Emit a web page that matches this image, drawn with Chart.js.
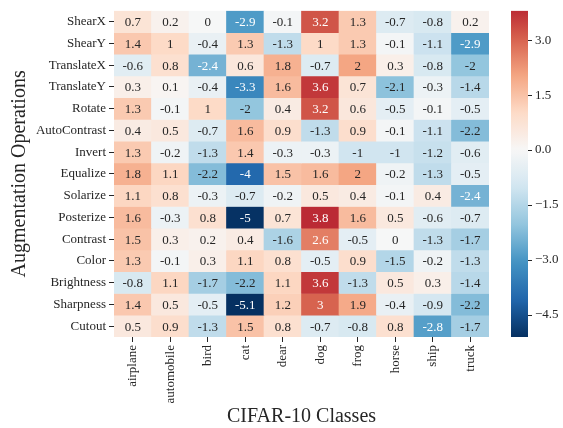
<!DOCTYPE html>
<html>
<head>
<meta charset="utf-8">
<title>Augmentation heatmap</title>
<script src="https://cdn.jsdelivr.net/npm/chart.js@4.4.1/dist/chart.umd.min.js"></script>
<style>
    html, body { margin: 0; padding: 0; background: #ffffff; }
    #wrap { position: relative; width: 563px; height: 428px; }
    #heat { position: absolute; left: 0; top: 0; }
    #cbar { position: absolute; left: 500px; top: 0; }
</style>
</head>
<body>
<div id="wrap">
    <canvas id="heat" width="563" height="428"></canvas>
    <canvas id="cbar" width="63" height="428"></canvas>
</div>
<script>
// --- data ---
const classes = ['airplane', 'automobile', 'bird', 'cat', 'dear', 'dog', 'frog', 'horse', 'ship', 'truck'];
const operations = ['ShearX', 'ShearY', 'TranslateX', 'TranslateY', 'Rotate', 'AutoContrast', 'Invert',
    'Equalize', 'Solarize', 'Posterize', 'Contrast', 'Color', 'Brightness', 'Sharpness', 'Cutout'];

const shearX       = [0.7, 0.2, 0, -2.9, -0.1, 3.2, 1.3, -0.7, -0.8, 0.2];
const shearY       = [1.4, 1, -0.4, 1.3, -1.3, 1, 1.3, -0.1, -1.1, -2.9];
const translateX   = [-0.6, 0.8, -2.4, 0.6, 1.8, -0.7, 2, 0.3, -0.8, -2];
const translateY   = [0.3, 0.1, -0.4, -3.3, 1.6, 3.6, 0.7, -2.1, -0.3, -1.4];
const rotate       = [1.3, -0.1, 1, -2, 0.4, 3.2, 0.6, -0.5, -0.1, -0.5];
const autoContrast = [0.4, 0.5, -0.7, 1.6, 0.9, -1.3, 0.9, -0.1, -1.1, -2.2];
const invert       = [1.3, -0.2, -1.3, 1.4, -0.3, -0.3, -1, -1, -1.2, -0.6];
const equalize     = [1.8, 1.1, -2.2, -4, 1.5, 1.6, 2, -0.2, -1.3, -0.5];
const solarize     = [1.1, 0.8, -0.3, -0.7, -0.2, 0.5, 0.4, -0.1, 0.4, -2.4];
const posterize    = [1.6, -0.3, 0.8, -5, 0.7, 3.8, 1.6, 0.5, -0.6, -0.7];
const contrast     = [1.5, 0.3, 0.2, 0.4, -1.6, 2.6, -0.5, 0, -1.3, -1.7];
const color        = [1.3, -0.1, 0.3, 1.1, 0.8, -0.5, 0.9, -1.5, -0.2, -1.3];
const brightness   = [-0.8, 1.1, -1.7, -2.2, 1.1, 3.6, -1.3, 0.5, 0.3, -1.4];
const sharpness    = [1.4, 0.5, -0.5, -5.1, 1.2, 3, 1.9, -0.4, -0.9, -2.2];
const cutout       = [0.5, 0.9, -1.3, 1.5, 0.8, -0.7, -0.8, 0.8, -2.8, -1.7];

const cbarTicks = [-4.5, -3, -1.5, 0, 1.5, 3];

const grid = [shearX, shearY, translateX, translateY, rotate, autoContrast, invert,
    equalize, solarize, posterize, contrast, color, brightness, sharpness, cutout];

// --- colour map: RdBu_r centred on 0 (seaborn style) ---
const rdbuR = ['#053061', '#2166ac', '#4393c3', '#92c5de', '#d1e5f0', '#f7f7f7',
    '#fddbc7', '#f4a582', '#d6604d', '#b2182b', '#67001f'].map(h => [
    parseInt(h.slice(1, 3), 16), parseInt(h.slice(3, 5), 16), parseInt(h.slice(5, 7), 16)]);

const vmin = Math.min(...grid.flat());
const vmax = Math.max(...grid.flat());
const vrange = Math.max(-vmin, vmax);

function sample(t) {
    const s = Math.min(Math.max(t, 0), 1) * (rdbuR.length - 1);
    const i = Math.min(Math.floor(s), rdbuR.length - 2);
    const f = s - i;
    return rdbuR[i].map((c, k) => c + (rdbuR[i + 1][k] - c) * f);
}

// quantised like matplotlib's 256-entry lookup tables
function rgbFor(v) {
    const cmin = (vmin + vrange) / (2 * vrange);
    const cmax = (vmax + vrange) / (2 * vrange);
    let idx = Math.floor((v - vmin) / (vmax - vmin) * 256);
    idx = Math.min(Math.max(idx, 0), 255);
    const cc = cmin + (cmax - cmin) * idx / 255;
    const j = Math.min(Math.floor(cc * 256), 255);
    return sample(j / 255);
}

function css(rgb) {
    return 'rgb(' + rgb.map(Math.round).join(',') + ')';
}

function textColor(v) {
    const lin = rgbFor(v).map(c => {
        c = c / 255;
        return c <= 0.03928 ? c / 12.92 : Math.pow((c + 0.055) / 1.055, 2.4);
    });
    const lum = 0.2126 * lin[0] + 0.7152 * lin[1] + 0.0722 * lin[2];
    return lum > 0.408 ? '#262626' : '#ffffff';
}

Chart.defaults.font.family = "'Liberation Serif', 'DejaVu Serif', serif";
Chart.defaults.color = '#262626';

const tickFont = { size: 13 };
const titleFont = { size: 20, lineHeight: 1.1 };

// numbers inside cells
const cellLabels = {
    id: 'cellLabels',
    afterDatasetsDraw(chart) {
        const c = chart.ctx;
        c.save();
        c.font = "13px 'Liberation Serif', serif";
        c.textAlign = 'center';
        c.textBaseline = 'middle';
        grid.forEach((row, r) => {
            chart.getDatasetMeta(r).data.forEach((bar, k) => {
                c.fillStyle = textColor(row[k]);
                c.fillText(String(row[k]), bar.x, (bar.y + bar.base) / 2 + 1);
            });
        });
        c.restore();
    }
};

new Chart(document.getElementById('heat'), {
    type: 'bar',
    data: {
        labels: classes,
        datasets: operations.map((name, r) => ({
            label: name,
            data: classes.map(() => [r, r + 1]),
            backgroundColor: grid[r].map(v => css(rgbFor(v))),
            borderWidth: 0
        }))
    },
    options: {
        responsive: false,
        animation: false,
        events: [],
        layout: { padding: { top: 7, right: 74, left: 0, bottom: 0 } },
        datasets: { bar: { grouped: false, barPercentage: 1, categoryPercentage: 1 } },
        scales: {
            x: {
                afterFit: function(axis) { axis.height = 91; },
                ticks: { minRotation: 90, maxRotation: 90, autoSkip: false, font: tickFont, padding: 3 },
                grid: { offset: false, drawOnChartArea: false, tickLength: 5, color: '#262626' },
                border: { display: false },
                title: { display: true, text: 'CIFAR-10 Classes', font: titleFont, padding: { top: 0, bottom: 0 } }
            },
            y: {
                type: 'linear',
                min: 0,
                max: operations.length,
                reverse: true,
                afterBuildTicks: function(axis) {
                    axis.ticks = operations.map((_, i) => ({ value: i + 0.5 }));
                },
                afterFit: function(axis) { axis.width = 114; },
                ticks: {
                    autoSkip: false,
                    font: tickFont,
                    padding: 3,
                    callback: function(value) { return operations[Math.floor(value)]; }
                },
                grid: { drawOnChartArea: false, tickLength: 5, color: '#262626' },
                border: { display: false },
                title: { display: true, text: 'Augmentation Operations', font: titleFont, padding: { top: 9, bottom: 0 } }
            }
        },
        plugins: {
            legend: { display: false },
            tooltip: { enabled: false }
        }
    },
    plugins: [cellLabels]
});

// colour bar
new Chart(document.getElementById('cbar'), {
    type: 'bar',
    data: {
        labels: [''],
        datasets: [{
            data: [[vmin, vmax]],
            borderWidth: 0,
            barPercentage: 1,
            categoryPercentage: 1,
            backgroundColor: function(context) {
                const area = context.chart.chartArea;
                if (!area) return '#f7f7f7';
                const g = context.chart.ctx.createLinearGradient(0, area.bottom, 0, area.top);
                const n = 64;
                for (let i = 0; i <= n; i++) {
                    const v = vmin + (vmax - vmin) * i / n;
                    g.addColorStop(i / n, css(sample((v + vrange) / (2 * vrange))));
                }
                return g;
            }
        }]
    },
    options: {
        responsive: false,
        animation: false,
        events: [],
        layout: { padding: { left: 11, top: 6, bottom: 91, right: 0 } },
        scales: {
            x: { display: false },
            y: {
                position: 'right',
                min: vmin,
                max: vmax,
                afterBuildTicks: function(axis) {
                    axis.ticks = cbarTicks.map(v => ({ value: v }));
                },
                afterFit: function(axis) { axis.width = 35; },
                ticks: {
                    font: tickFont,
                    padding: 3,
                    callback: function(value) { return value.toFixed(1).replace('-', '\u2212'); }
                },
                grid: { drawOnChartArea: false, tickLength: 4, color: '#262626' },
                border: { display: false }
            }
        },
        plugins: {
            legend: { display: false },
            tooltip: { enabled: false }
        }
    }
});
</script>
</body>
</html>
